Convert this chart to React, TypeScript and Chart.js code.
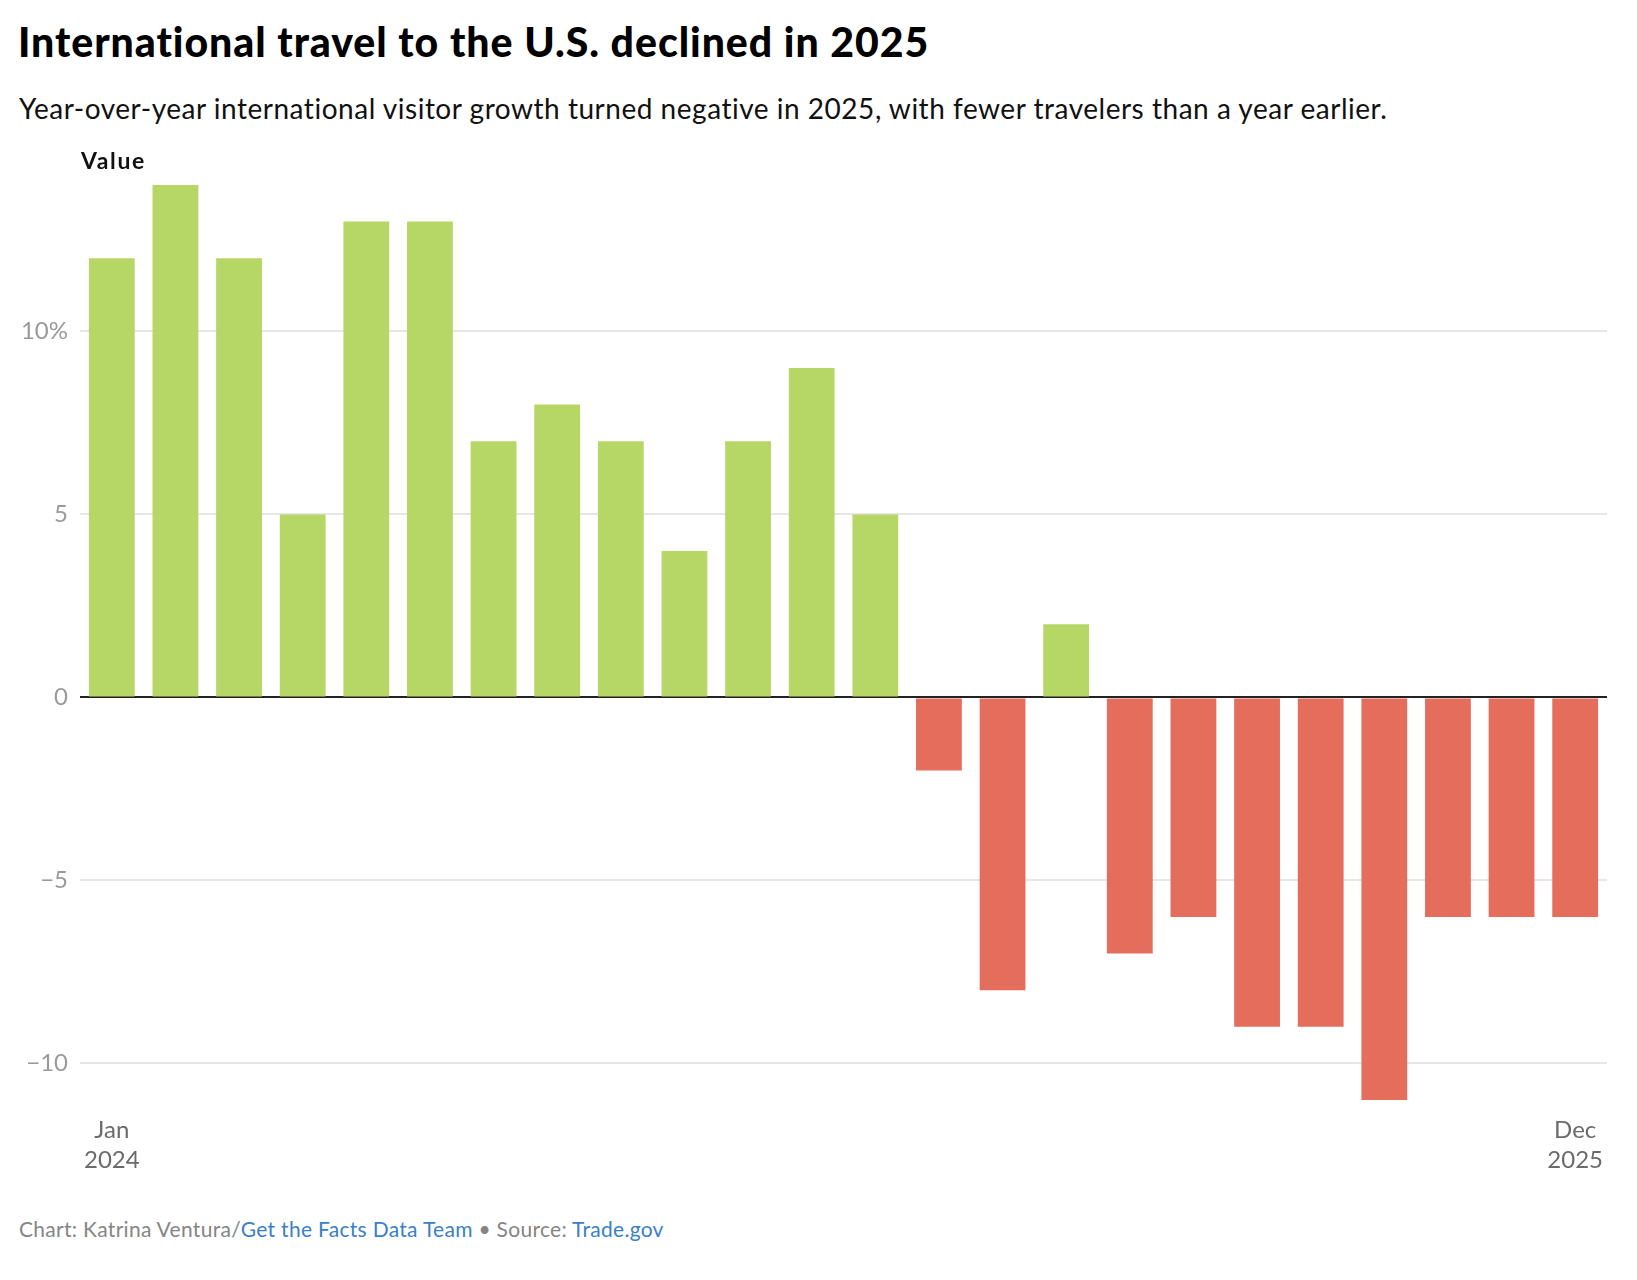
import React, { useEffect, useRef } from "react";
import { Chart, registerables } from "chart.js";

Chart.register(...registerables);

// Monthly year-over-year change in international visitors, Jan 2024 – Dec 2025
const months = [
  "Jan 2024", "Feb 2024", "Mar 2024", "Apr 2024", "May 2024", "Jun 2024",
  "Jul 2024", "Aug 2024", "Sep 2024", "Oct 2024", "Nov 2024", "Dec 2024",
  "Jan 2025", "Feb 2025", "Mar 2025", "Apr 2025", "May 2025", "Jun 2025",
  "Jul 2025", "Aug 2025", "Sep 2025", "Oct 2025", "Nov 2025", "Dec 2025",
];
const growth = [
  12, 14, 12, 5, 13, 13, 7, 8, 7, 4, 7, 9,
  5, -2, -8, 2, -7, -6, -9, -9, -11, -6, -6, -6,
];
const yTicks = [-10, -5, 0, 5, 10];
const xTickLabels: Record<number, string[]> = {
  0: ["Jan", "2024"],
  23: ["Dec", "2025"],
};

const GREEN = "#b6d665";
const RED = "#e56d5c";
const FONT = "Lato, 'Noto Sans', sans-serif";

// Bold "Value" caption above the top-left corner of the plot area
const axisTitle = {
  id: "axisTitle",
  afterDraw(chart: Chart) {
    const { ctx, chartArea } = chart;
    ctx.save();
    ctx.font = `bold 23px ${FONT}`;
    (ctx as any).letterSpacing = "1.6px";
    ctx.fillStyle = "#111";
    ctx.textAlign = "left";
    ctx.textBaseline = "alphabetic";
    ctx.fillText("Value", chartArea.left + 1, 29);
    ctx.restore();
  },
};

export default function App() {
  const canvasRef = useRef<HTMLCanvasElement | null>(null);

  useEffect(() => {
    if (!canvasRef.current) return;
    const chart = new Chart(canvasRef.current, {
      type: "bar",
      data: {
        labels: months,
        datasets: [
          {
            data: growth,
            backgroundColor: growth.map((v) => (v >= 0 ? GREEN : RED)),
            borderWidth: 0,
            barPercentage: 0.72,
            categoryPercentage: 1,
          },
        ],
      },
      options: {
        responsive: false,
        animation: false,
        devicePixelRatio: 1,
        layout: { padding: { top: 45, right: 22, left: 0, bottom: 0 } },
        plugins: {
          legend: { display: false },
          tooltip: { enabled: false },
        },
        scales: {
          x: {
            grid: { display: false },
            border: { display: false },
            afterFit(scale: any) {
              scale.height = 90;
            },
            ticks: {
              autoSkip: false,
              maxRotation: 0,
              minRotation: 0,
              padding: 7,
              color: "#6b6b6b",
              font: { family: FONT, size: 24, lineHeight: 1.27 },
              callback: (_v: any, i: number) => xTickLabels[i] ?? "",
            },
          },
          y: {
            min: -11,
            max: 14,
            afterBuildTicks(scale: any) {
              scale.ticks = yTicks.map((v) => ({ value: v }));
            },
            afterFit(scale: any) {
              scale.width = 72;
            },
            border: { display: false },
            grid: {
              drawTicks: false,
              color: (c: any) => (c.tick && c.tick.value === 0 ? "#222" : "#e6e6e6"),
              lineWidth: 2,
            },
            ticks: {
              padding: 12,
              color: "#9a9a9a",
              font: { family: FONT, size: 24 },
              callback: (v: any) => {
                const n = Number(v);
                const s = Math.abs(n).toString();
                const sign = n < 0 ? "\u2212" : "";
                return n === 10 ? `${sign}${s}%` : `${sign}${s}`;
              },
            },
          },
        },
      },
      plugins: [axisTitle],
    });
    return () => chart.destroy();
  }, []);

  return (
    <div
      style={{
        position: "relative",
        width: 1621,
        height: 1264,
        fontFamily: FONT,
        background: "#fff",
      }}
    >
      <div
        style={{
          position: "absolute",
          left: 10,
          top: 9,
          fontSize: 41,
          fontWeight: 900,
          letterSpacing: "0.95px",
          lineHeight: "50px",
          color: "#000",
          whiteSpace: "nowrap",
        }}
      >
        International travel to the U.S. declined in 2025
      </div>
      <div
        style={{
          position: "absolute",
          left: 11,
          top: 84,
          fontSize: 28,
          letterSpacing: "0.52px",
          lineHeight: "32px",
          color: "#111",
          whiteSpace: "nowrap",
        }}
      >
        Year-over-year international visitor growth turned negative in 2025, with fewer travelers than a year earlier.
      </div>
      <canvas
        ref={canvasRef}
        width={1621}
        height={1050}
        style={{ position: "absolute", left: 0, top: 132, width: 1621, height: 1050 }}
      />
      <div
        style={{
          position: "absolute",
          left: 11,
          top: 1208,
          fontSize: 21,
          letterSpacing: "0.3px",
          lineHeight: "25px",
          color: "#858585",
          whiteSpace: "nowrap",
        }}
      >
        Chart: Katrina Ventura/<span style={{ color: "#3a80c6" }}>Get the Facts Data Team</span>
        {" \u2022 Source: "}
        <span style={{ color: "#3a80c6" }}>Trade.gov</span>
      </div>
    </div>
  );
}
